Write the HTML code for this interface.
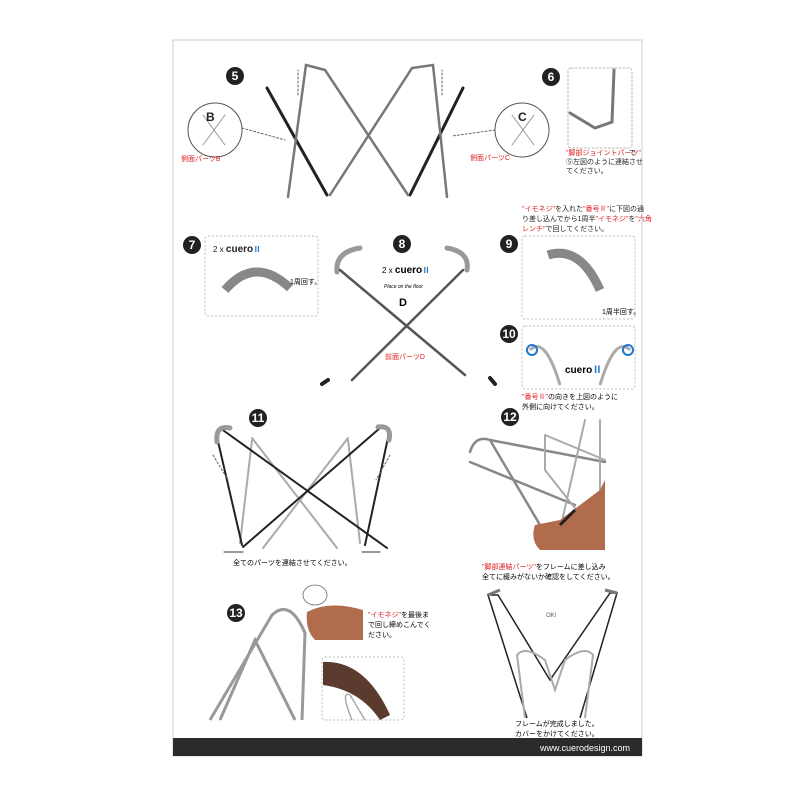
<!DOCTYPE html>
<html><head><meta charset="utf-8"><style>
body{margin:0;background:#fff;width:800px;height:800px;overflow:hidden}
svg{display:block}
text{font-family:"Liberation Sans","Noto Sans CJK JP",sans-serif}
</style></head><body>
<svg width="800" height="800" viewBox="0 0 800 800">
<rect x="173" y="40" width="469" height="716" fill="#fff" stroke="#ccc" stroke-width="1"/>
<rect x="173" y="738" width="469" height="18" fill="#2b2b2b"/>
<text x="630" y="751" font-size="9" fill="#fff" text-anchor="end">www.cuerodesign.com</text>
<g font-weight="bold" fill="#fff" font-size="12" text-anchor="middle">
<circle cx="235" cy="76" r="9" fill="#222"/><text x="235" y="80">5</text>
<circle cx="551" cy="77" r="9" fill="#222"/><text x="551" y="81">6</text>
<circle cx="192" cy="245" r="9" fill="#222"/><text x="192" y="249">7</text>
<circle cx="402" cy="244" r="9" fill="#222"/><text x="402" y="248">8</text>
<circle cx="509" cy="244" r="9" fill="#222"/><text x="509" y="248">9</text>
<circle cx="509" cy="334" r="9" fill="#222"/><text x="509" y="338">10</text>
<circle cx="258" cy="418" r="9" fill="#222"/><text x="258" y="422">11</text>
<circle cx="510" cy="417" r="9" fill="#222"/><text x="510" y="421">12</text>
<circle cx="236" cy="613" r="9" fill="#222"/><text x="236" y="617">13</text>
</g>
<!-- step 5 -->
<g fill="none" stroke-linecap="round">
<circle cx="215" cy="130" r="27" stroke="#555"/>
<circle cx="522" cy="130" r="27" stroke="#555"/>
<path d="M203 115L225 145M225 115L203 145M512 115L534 145M534 115L512 145" stroke="#999"/>
<path d="M267 88L327 195M463 88L410 195" stroke="#222" stroke-width="3"/>
<path d="M288 197L306 65L325 70L408 195M447 197L433 65L412 68L330 195" stroke="#777" stroke-width="2.5"/>
<path d="M242 128L285 140M495 130L452 136" stroke="#666" stroke-dasharray="2 2"/>
<path d="M298 95V70M442 95V70" stroke="#666" stroke-dasharray="2 2"/>
<rect x="568" y="68" width="64" height="80" rx="3" stroke="#bbb" stroke-dasharray="2 2"/>
<path d="M570 113L595 128L612 122L614 70" stroke="#777" stroke-width="3"/>
</g>
<g font-size="12" font-weight="bold" fill="#222"><text x="206" y="121">B</text><text x="518" y="121">C</text></g>
<g font-size="7" fill="#d22"><text x="181" y="161">側面パーツB</text><text x="470" y="160">側面パーツC</text>
<text x="566" y="155">"脚部ジョイントパーツ"</text></g>
<g font-size="7" fill="#222"><text x="629" y="155" >で</text><text x="566" y="164">⑤左図のように連結させ</text><text x="566" y="173">てください。</text></g>
<g font-size="7" fill="#222"><text x="522" y="211"><tspan fill="#d22">"イモネジ"</tspan>を入れた<tspan fill="#d22">"番号Ⅱ"</tspan>に下図の通</text>
<text x="522" y="221">り差し込んでから1周半<tspan fill="#d22">"イモネジ"</tspan>を<tspan fill="#d22">"六角</tspan></text>
<text x="522" y="231"><tspan fill="#d22">レンチ"</tspan>で回してください。</text></g>
<!-- 7 -->
<rect x="205" y="236" width="113" height="80" rx="3" fill="none" stroke="#bbb" stroke-dasharray="2 2"/>
<text x="213" y="252" font-size="8" fill="#222">2 x <tspan font-weight="bold" font-size="10">cuero</tspan><tspan fill="#27c" font-weight="bold">Ⅱ</tspan></text>
<path d="M225 290Q255 255 290 288" fill="none" stroke="#888" stroke-width="9"/>
<text x="290" y="284" font-size="7">1周回す。</text>
<!-- 8 -->
<g fill="none" stroke-linecap="round">
<path d="M337 272Q335 252 360 248M467 270Q470 252 447 248" stroke="#999" stroke-width="5"/>
<path d="M340 270L465 375M463 270L352 380" stroke="#555" stroke-width="2.5"/>
<path d="M322 384L328 380M490 378L495 384" stroke="#222" stroke-width="4"/>
</g>
<text x="382" y="273" font-size="8">2 x <tspan font-weight="bold" font-size="10">cuero</tspan><tspan fill="#27c" font-weight="bold">Ⅱ</tspan></text>
<text x="384" y="288" font-size="5" font-style="italic">Place on the floor</text>
<text x="399" y="306" font-size="11" font-weight="bold">D</text>
<text x="385" y="359" font-size="7" fill="#d22">前面パーツD</text>
<!-- 9 & 10 -->
<rect x="522" y="236" width="113" height="83" rx="3" fill="none" stroke="#bbb" stroke-dasharray="2 2"/>
<path d="M548 255Q580 245 600 290" fill="none" stroke="#888" stroke-width="9"/>
<text x="602" y="314" font-size="7">1周半回す。</text>
<rect x="522" y="326" width="113" height="63" rx="3" fill="none" stroke="#bbb" stroke-dasharray="2 2"/>
<path d="M530 350Q545 335 560 385M630 350Q615 335 600 385" fill="none" stroke="#aaa" stroke-width="3"/>
<circle cx="532" cy="350" r="5" fill="none" stroke="#27c" stroke-width="2"/><circle cx="628" cy="350" r="5" fill="none" stroke="#27c" stroke-width="2"/>
<text x="565" y="373" font-size="10" font-weight="bold">cuero<tspan fill="#27c">Ⅱ</tspan></text>
<text x="522" y="399" font-size="7"><tspan fill="#d22">"番号Ⅱ"</tspan>の向きを上図のように</text>
<text x="522" y="409" font-size="7">外側に向けてください。</text>
<!-- 11 -->
<g fill="none" stroke-linecap="round">
<path d="M252 440L240 543M252 438L337 548M348 440L360 543M348 438L263 548" stroke="#aaa" stroke-width="2"/>
<path d="M220 428L387 548M217 437L242 545M389 433L365 545M380 428L243 547" stroke="#222" stroke-width="2"/>
<path d="M217 442Q215 425 230 428M389 440Q392 425 378 427" stroke="#999" stroke-width="5"/>
<path d="M213 455L228 480M390 455L376 480" stroke="#666" stroke-dasharray="2 2"/>
<path d="M224 552H243M380 552H362" stroke="#333"/>
</g>
<text x="233" y="565" font-size="7">全てのパーツを連結させてください。</text>
<!-- 12 -->
<g fill="none" stroke-linecap="round">
<path d="M470 452Q475 435 490 440L605 462M470 462L575 505M490 440L540 525" stroke="#888" stroke-width="2.5"/>
<path d="M545 435L545 470L600 540M545 435L605 460M585 420L560 530M600 420V510" stroke="#aaa" stroke-width="2"/>
</g>
<path d="M535 525L560 520L600 490L605 480L605 550L540 550Q530 540 535 525Z" fill="#b06c4c"/>
<path d="M560 525L575 510" stroke="#222" stroke-width="3"/>
<text x="482" y="569" font-size="7"><tspan fill="#d22">"脚部連結パーツ"</tspan>をフレームに差し込み</text>
<text x="482" y="579" font-size="7">全てに緩みがないか確認をしてください。</text>
<!-- 13 -->
<path d="M210 720L272 615Q290 598 305 633L302 720M220 720L255 640L295 720" fill="none" stroke="#999" stroke-width="3"/>
<path d="M307 612Q330 600 363 610L363 640L315 640Q305 630 307 612Z" fill="#b06c4c"/>
<ellipse cx="315" cy="595" rx="12" ry="10" fill="none" stroke="#666" stroke-width="0.8"/>
<text x="368" y="617" font-size="7"><tspan fill="#d22">"イモネジ"</tspan>を最後ま</text>
<text x="368" y="627" font-size="7">で回し締めこんでく</text>
<text x="368" y="637" font-size="7">ださい。</text>
<rect x="322" y="657" width="82" height="63" rx="3" fill="none" stroke="#bbb" stroke-dasharray="2 2"/>
<path d="M323 662Q365 660 390 715L380 720Q360 690 323 685Z" fill="#5a3b2e"/>
<path d="M352 720Q340 690 350 695L365 720" fill="none" stroke="#aaa" stroke-width="1.5"/>
<!-- OK -->
<path d="M527 718L488 595L498 595L550 680L610 593L617 593L580 718" fill="none" stroke="#222" stroke-width="1.5"/>
<path d="M488 595L500 590M617 593L605 590" stroke="#777" stroke-width="3"/>
<path d="M525 718L517 655Q525 645 545 660L555 690L565 660Q585 645 593 655L585 718" fill="none" stroke="#aaa" stroke-width="2"/>
<text x="546" y="617" font-size="6" fill="#555">OK!</text>
<text x="515" y="726" font-size="7">フレームが完成しました。</text>
<text x="515" y="736" font-size="7">カバーをかけてください。</text>
</svg>
</body></html>
